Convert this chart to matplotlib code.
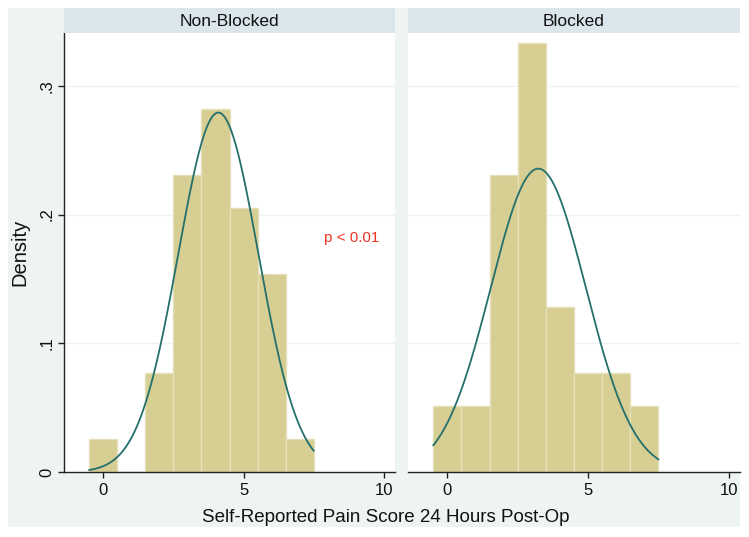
import numpy as np
import matplotlib
matplotlib.use('Agg')
from matplotlib import pyplot as plt
from matplotlib.patches import Rectangle

plt.rcParams['font.family'] = ['Liberation Sans', 'DejaVu Sans']

# pain scores (bin centres) and number of patients per score
scores = [0, 1, 2, 3, 4, 5, 6, 7]
counts_nonblocked = [1, 0, 3, 9, 11, 8, 6, 1]
counts_blocked = [2, 2, 9, 13, 5, 3, 3, 2]
panel_titles = ['Non-Blocked', 'Blocked']
ytick_vals = [0, 0.1, 0.2, 0.3]
ytick_labels = ['0', '.1', '.2', '.3']
xtick_vals = [0, 5, 10]
p_text = 'p < 0.01'

W, H = 749, 537
BG = '#eef3f4'
STRIP = '#dae6ec'
BAR = '#d6ce93'
BAR_EDGE = '#e6e0b8'
CURVE = '#24706c'
GRID = '#edf2f3'


def fx(px):
    return px / W


def fy(py):
    return 1 - py / H


fig = plt.figure(figsize=(W / 100, H / 100), dpi=100)
fig.patch.set_facecolor('white')
fig.add_artist(Rectangle((fx(8), fy(527)), fx(740) - fx(8), fy(8) - fy(527),
                         transform=fig.transFigure, facecolor=BG,
                         edgecolor='none', zorder=-5))

panels = [(64, 395), (408, 740)]
top, bottom = 33, 472

for i, (counts, (x0, x1)) in enumerate(zip([counts_nonblocked, counts_blocked], panels)):
    ax = fig.add_axes([fx(x0), fy(bottom), fx(x1) - fx(x0), fy(top) - fy(bottom)])
    ax.set_facecolor('white')
    counts = np.array(counts, dtype=float)
    sc = np.array(scores, dtype=float)
    n = counts.sum()
    dens = counts / n
    ax.bar(sc, dens, width=1.0, color=BAR, edgecolor=BAR_EDGE, linewidth=1.0, zorder=2)

    # normal density with the sample mean / sd of the data
    mu = (sc * counts).sum() / n
    sd = np.sqrt(((sc - mu) ** 2 * counts).sum() / (n - 1))
    xs = np.linspace(sc[0] - 0.5, sc[-1] + 0.5, 300)
    ax.plot(xs, np.exp(-0.5 * ((xs - mu) / sd) ** 2) / (sd * np.sqrt(2 * np.pi)),
            color=CURVE, linewidth=1.3, zorder=3)

    ax.set_xlim(-1.4, 10.4)
    ax.set_ylim(0, 0.341)
    for v in ytick_vals[1:]:
        ax.axhline(v, color=GRID, linewidth=0.9, zorder=1)

    for s in ['top', 'right']:
        ax.spines[s].set_visible(False)
    ax.spines['bottom'].set_color('#222222')
    ax.spines['bottom'].set_linewidth(1.0)
    ax.set_xticks(xtick_vals)
    ax.set_xticklabels([str(v) for v in xtick_vals])
    ax.tick_params(axis='x', length=4, width=1, color='#222222', pad=4,
                   labelsize=12, labelcolor='#111111')
    if i == 0:
        ax.spines['left'].set_color('#222222')
        ax.spines['left'].set_linewidth(1.0)
        ax.set_yticks(ytick_vals)
        ax.set_yticklabels(ytick_labels)
        ax.tick_params(axis='y', length=4, width=1, color='#222222', pad=3,
                       labelsize=12, labelcolor='#111111', labelrotation=90)
        for lab in ax.get_yticklabels():
            lab.set_va('center')
        ax.set_ylabel('Density', fontsize=14.5, color='#111111', labelpad=7)
        ax.text(8.87, 0.182, p_text, color='#ee3524', fontsize=11,
                ha='center', va='center')
    else:
        ax.spines['left'].set_visible(False)
        ax.set_yticks([])

    # panel title strip
    sax = fig.add_axes([fx(x0), fy(top), fx(x1) - fx(x0), fy(8) - fy(top)])
    sax.set_facecolor(STRIP)
    for s in sax.spines.values():
        s.set_visible(False)
    sax.set_xticks([])
    sax.set_yticks([])
    sax.text(0.5, 0.48, panel_titles[i], ha='center', va='center',
             fontsize=12.5, color='#111111', transform=sax.transAxes)

fig.text(fx(386), fy(517), 'Self-Reported Pain Score 24 Hours Post-Op',
         ha='center', va='center', fontsize=13.5, color='#111111')

fig.savefig('out.png', dpi=100)
